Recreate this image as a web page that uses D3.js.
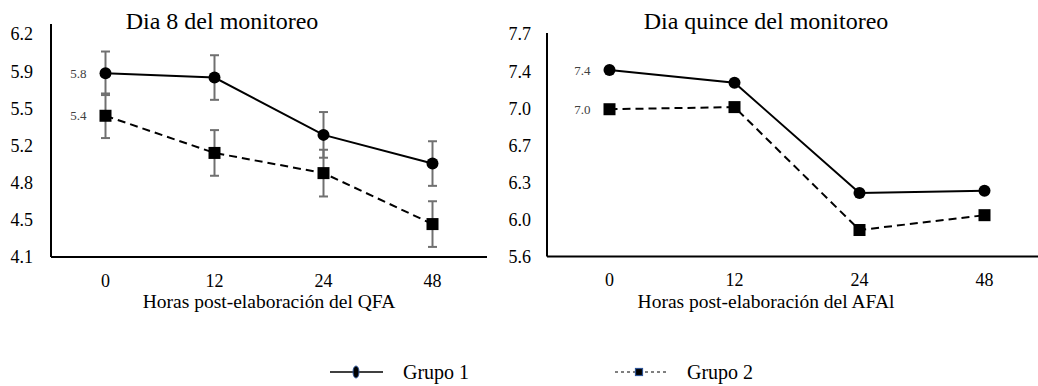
<!DOCTYPE html>
<html>
<head>
<meta charset="utf-8">
<script src="https://cdn.jsdelivr.net/npm/d3@7"></script>
<style>
  body { margin: 0; background: #fff; }
  svg text { font-family: "Liberation Serif", "Times New Roman", serif; fill: #000; }
</style>
</head>
<body>
<div id="chart"></div>
<script>
// data
var horas = ["0", "12", "24", "48"];

var dia8Grupo1 = [5.83, 5.79, 5.25, 4.98];
var dia8Grupo2 = [5.43, 5.08, 4.89, 4.41];
var dia8Error1 = [0.205, 0.21, 0.215, 0.21];
var dia8Error2 = [0.21, 0.215, 0.22, 0.215];
var dia8Ticks = [4.1, 4.45, 4.8, 5.15, 5.5, 5.85, 6.2];
var dia8TickLabels = ["4.1", "4.5", "4.8", "5.2", "5.5", "5.9", "6.2"];
var dia8Labels = ["5.8", "5.4"];

var dia15Grupo1 = [7.36, 7.24, 6.20, 6.22];
var dia15Grupo2 = [6.99, 7.01, 5.85, 5.99];
var dia15Ticks = [5.6, 5.95, 6.3, 6.65, 7.0, 7.35, 7.7];
var dia15TickLabels = ["5.6", "6.0", "6.3", "6.7", "7.0", "7.4", "7.7"];
var dia15Labels = ["7.4", "7.0"];

var grupos = ["Grupo 1", "Grupo 2"];

var width = 1038, height = 386;

var svg = d3.select("#chart").append("svg")
  .attr("width", width)
  .attr("height", height);

function panel(opts) {
  var x = d3.scaleBand().domain(horas).range([opts.left, opts.right]);
  var y = d3.scaleLinear().domain(opts.domain).range([opts.bottom, opts.top]);
  var cx = function(d, i) { return x(horas[i]) + x.bandwidth() / 2; };

  var g = svg.append("g");

  // y axis
  var yAxis = d3.axisLeft(y)
    .tickValues(opts.ticks)
    .tickFormat(function(d, i) { return opts.tickLabels[i]; })
    .tickSize(0)
    .tickPadding(opts.left - opts.labelRight);
  var ya = g.append("g")
    .attr("transform", "translate(" + opts.left + ",0)")
    .call(yAxis);
  ya.select(".domain").remove();
  ya.selectAll("text").style("font-size", "18px").attr("dy", "0.33em");
  g.append("line")
    .attr("x1", opts.left).attr("x2", opts.left)
    .attr("y1", opts.axisTop).attr("y2", opts.bottom)
    .attr("stroke", "#000").attr("stroke-width", 2);

  // x axis
  var xAxis = d3.axisBottom(x).tickSize(0).tickPadding(17);
  var xa = g.append("g")
    .attr("transform", "translate(0," + opts.bottom + ")")
    .call(xAxis);
  xa.select(".domain").remove();
  xa.selectAll("text").style("font-size", "18px");
  g.append("line")
    .attr("x1", opts.left).attr("x2", opts.right)
    .attr("y1", opts.bottom).attr("y2", opts.bottom)
    .attr("stroke", "#000").attr("stroke-width", 2);

  // titles
  g.append("text")
    .attr("x", opts.titleX).attr("y", 29)
    .attr("text-anchor", "middle")
    .style("font-size", "24px")
    .text(opts.title);
  g.append("text")
    .attr("x", opts.xTitleX).attr("y", 308)
    .attr("text-anchor", "middle")
    .style("font-size", "19.5px")
    .text(opts.xTitle);

  // error bars
  [[opts.g1, opts.e1], [opts.g2, opts.e2]].forEach(function(s) {
    if (!s[1]) return;
    var eb = g.append("g").attr("stroke", "#707070").attr("stroke-width", 2);
    s[0].forEach(function(v, i) {
      var px = cx(v, i), lo = y(v - s[1][i]), hi = y(v + s[1][i]);
      eb.append("line").attr("x1", px).attr("x2", px).attr("y1", lo).attr("y2", hi);
      eb.append("line").attr("x1", px - 4.5).attr("x2", px + 4.5).attr("y1", lo).attr("y2", lo);
      eb.append("line").attr("x1", px - 4.5).attr("x2", px + 4.5).attr("y1", hi).attr("y2", hi);
    });
  });

  var line = d3.line().x(cx).y(function(d) { return y(d); });

  g.append("path")
    .attr("d", line(opts.g2))
    .attr("fill", "none").attr("stroke", "#000")
    .attr("stroke-width", 2).attr("stroke-dasharray", "8,5");
  g.append("path")
    .attr("d", line(opts.g1))
    .attr("fill", "none").attr("stroke", "#000")
    .attr("stroke-width", 2);

  g.selectAll(null).data(opts.g1).enter().append("circle")
    .attr("cx", cx).attr("cy", function(d) { return y(d); })
    .attr("r", 6).attr("fill", "#000");
  g.selectAll(null).data(opts.g2).enter().append("rect")
    .attr("x", function(d, i) { return cx(d, i) - 6; })
    .attr("y", function(d) { return y(d) - 6; })
    .attr("width", 12).attr("height", 12).attr("fill", "#000");

  // data labels on the first points
  [opts.g1[0], opts.g2[0]].forEach(function(v, i) {
    g.append("text")
      .attr("x", cx(v, 0) - 19).attr("y", y(v))
      .attr("dy", "0.35em")
      .attr("text-anchor", "end")
      .style("font-size", "13px")
      .style("fill", "#404040")
      .text(opts.labels[i]);
  });
}

panel({
  left: 51, right: 487, top: 34, bottom: 257, axisTop: 24, labelRight: 33,
  domain: [4.1, 6.2], ticks: dia8Ticks, tickLabels: dia8TickLabels,
  g1: dia8Grupo1, g2: dia8Grupo2, e1: dia8Error1, e2: dia8Error2,
  labels: dia8Labels, titleX: 222, title: "Dia 8 del monitoreo",
  xTitleX: 269, xTitle: "Horas post-elaboración del QFA"
});

panel({
  left: 547, right: 1047, top: 34, bottom: 256.5, axisTop: 33, labelRight: 531,
  domain: [5.6, 7.7], ticks: dia15Ticks, tickLabels: dia15TickLabels,
  g1: dia15Grupo1, g2: dia15Grupo2,
  labels: dia15Labels, titleX: 766, title: "Dia quince del monitoreo",
  xTitleX: 766, xTitle: "Horas post-elaboración del AFAl"
});

// legend
var legend = svg.append("g");
legend.append("line")
  .attr("x1", 330).attr("x2", 383).attr("y1", 372).attr("y2", 372)
  .attr("stroke", "#000").attr("stroke-width", 1.3);
legend.append("ellipse")
  .attr("cx", 356).attr("cy", 372).attr("rx", 3).attr("ry", 6)
  .attr("fill", "#000").attr("stroke", "#2f5597").attr("stroke-width", 1);
legend.append("line")
  .attr("x1", 615).attr("x2", 666).attr("y1", 372).attr("y2", 372)
  .attr("stroke", "#000").attr("stroke-width", 1).attr("stroke-dasharray", "3,3");
legend.append("rect")
  .attr("x", 635.5).attr("y", 368.5).attr("width", 7).attr("height", 7)
  .attr("fill", "#000").attr("stroke", "#2f5597").attr("stroke-width", 1.2);
legend.selectAll(null).data(grupos).enter().append("text")
  .attr("x", function(d, i) { return i === 0 ? 403 : 687; })
  .attr("y", 379)
  .style("font-size", "20px")
  .text(function(d) { return d; });
</script>
</body>
</html>
